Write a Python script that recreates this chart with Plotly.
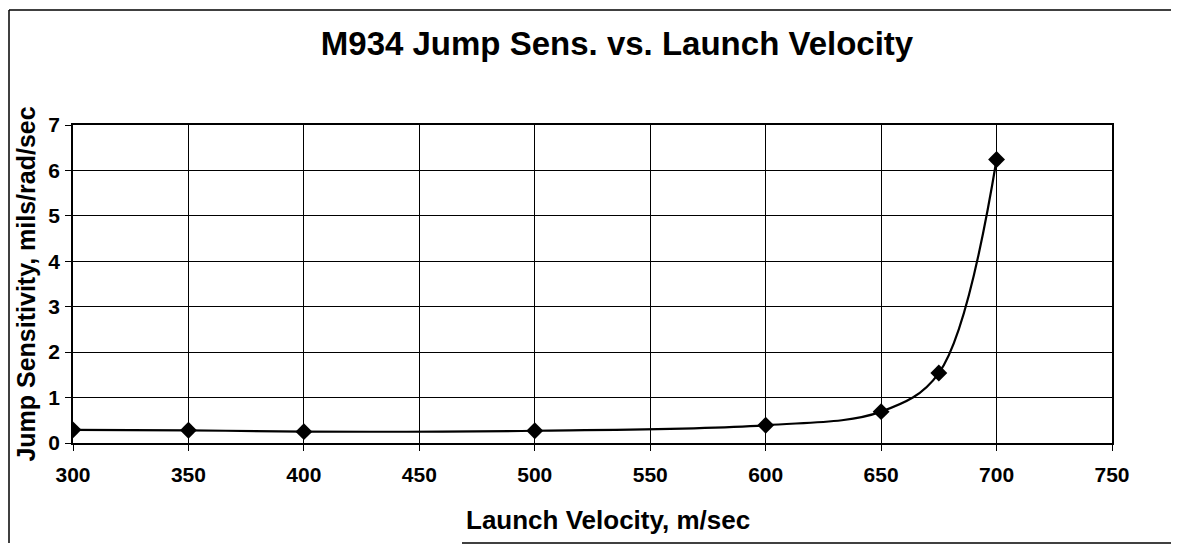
import plotly.graph_objects as go

velocity = [300, 350, 400, 500, 600, 650, 675, 700]
jump_sens = [0.29, 0.28, 0.25, 0.27, 0.39, 0.69, 1.54, 6.24]

x_ticks = [300, 350, 400, 450, 500, 550, 600, 650, 700, 750]
y_ticks = [0, 1, 2, 3, 4, 5, 6, 7]

FONT = "Arial, Liberation Sans, sans-serif"

fig = go.Figure()
fig.add_trace(go.Scatter(
    x=velocity, y=jump_sens, mode="lines+markers",
    line=dict(color="black", width=2.2, shape="spline", smoothing=1),
    marker=dict(symbol="diamond", size=13, color="black"),
    showlegend=False,
))

fig.update_layout(
    width=1163, height=536,
    margin=dict(l=65, r=59, t=117, b=101),
    paper_bgcolor="white", plot_bgcolor="white",
    font=dict(family=FONT, color="black"),
    title=dict(text="<b>M934 Jump Sens. vs. Launch Velocity</b>",
               x=(617 - 8) / 1163, xanchor="center", y=1 - 35 / 536, yanchor="middle",
               font=dict(size=33, family=FONT, color="black")),
)
fig.update_xaxes(
    range=[300, 750], tickvals=x_ticks, ticktext=[f"<b>{v}</b>" for v in x_ticks],
    showgrid=True, gridcolor="black", gridwidth=1,
    showline=True, linecolor="black", linewidth=1.5, mirror=True,
    ticks="outside", ticklen=6, tickcolor="black",
    ticklabelstandoff=6,
    tickfont=dict(size=21, family=FONT),
    zeroline=False,
)
fig.update_yaxes(
    range=[0, 7], tickvals=y_ticks, ticktext=[f"<b>{v}</b>" for v in y_ticks],
    showgrid=True, gridcolor="black", gridwidth=1,
    showline=True, linecolor="black", linewidth=1.5, mirror=True,
    ticks="outside", ticklen=6, tickcolor="black",
    ticklabelstandoff=1,
    tickfont=dict(size=21, family=FONT),
    title=dict(text="<b>Jump Sensitivity, mils/rad/sec</b>", font=dict(size=25, family=FONT), standoff=6),
    zeroline=False,
)

fig.add_annotation(text="<b>Launch Velocity, m/sec</b>", xref="paper", yref="paper",
                   x=0.515, y=-0.242, xanchor="center", yanchor="middle", showarrow=False,
                   font=dict(size=26, family=FONT, color="black"))

# outer chart-area border (left, top, partial bottom); coordinates in screen pixels
pw, ph = 1039.0, 318.0
def px(x): return (x - 73) / pw
def py(y): return (443 - y) / ph
for x0, y0, x1, y1 in [(9, 10, 1171, 10), (9, 10, 9, 543), (462, 543, 1171, 543)]:
    fig.add_shape(type="line", xref="paper", yref="paper",
                  x0=px(x0), y0=py(y0), x1=px(x1), y1=py(y1),
                  line=dict(color="black", width=1.5))

fig.write_html("out.html")
